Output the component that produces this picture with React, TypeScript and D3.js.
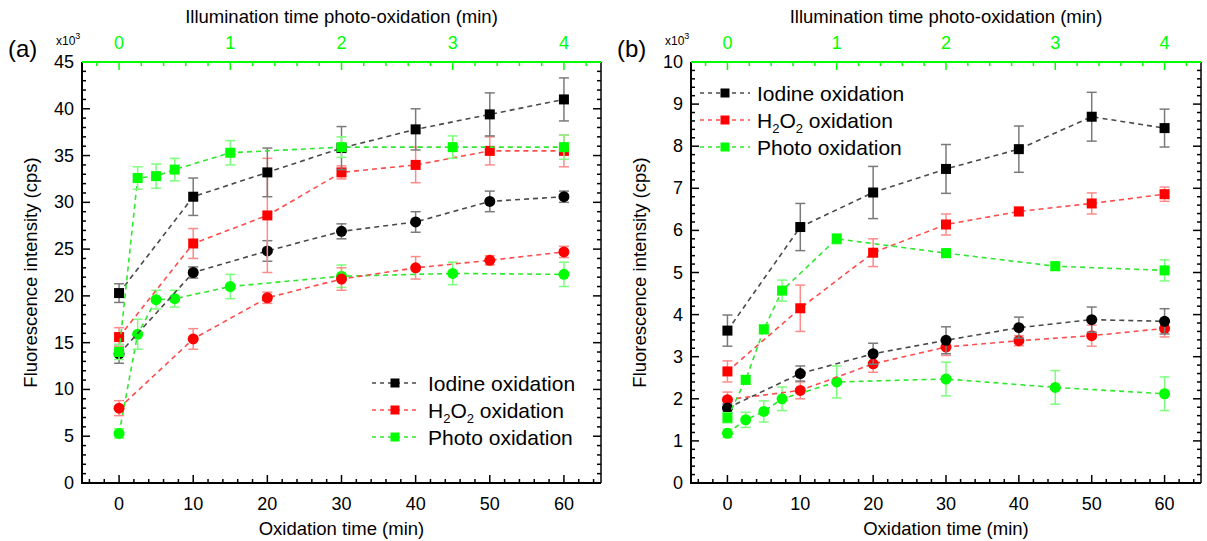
import React from "react";
import * as d3 from "d3";

// oxidation time (min) for iodine and H2O2 series, illumination time (min) for photo series
const oxTimes = [0, 10, 20, 30, 40, 50, 60];
const illumTimes = [0, 0.167, 0.333, 0.5, 1, 2, 3, 4];
const oxTicks = [0, 10, 20, 30, 40, 50, 60];
const illumTicks = [0, 1, 2, 3, 4];

// panel (a), values in x10^3 cps
const aIodineSq = [20.3, 30.6, 33.2, 35.8, 37.8, 39.4, 41.0];
const aIodineSqErr = [1.0, 2.0, 2.6, 2.3, 2.2, 2.3, 2.3];
const aIodineCi = [13.8, 22.5, 24.8, 26.9, 27.9, 30.1, 30.6];
const aIodineCiErr = [1.0, 0.6, 1.1, 0.8, 1.1, 1.1, 0.6];
const aH2o2Sq = [15.6, 25.6, 28.6, 33.2, 34.0, 35.5, 35.5];
const aH2o2SqErr = [1.0, 1.6, 6.1, 0.7, 1.9, 1.5, 1.7];
const aH2o2Ci = [8.0, 15.4, 19.8, 21.8, 23.0, 23.8, 24.7];
const aH2o2CiErr = [0.8, 1.1, 0.6, 1.2, 1.2, 0.5, 0.6];
const aPhotoSq = [14.0, 32.6, 32.8, 33.5, 35.3, 35.9, 35.9, 35.9];
const aPhotoSqErr = [0.8, 1.2, 1.3, 1.2, 1.3, 1.1, 1.2, 1.3];
const aPhotoCi = [5.3, 15.9, 19.6, 19.7, 21.0, 22.1, 22.4, 22.3];
const aPhotoCiErr = [0.5, 1.6, 1.0, 0.9, 1.3, 1.2, 1.2, 1.3];

// panel (b), values in x10^3 cps
const bIodineSq = [3.62, 6.08, 6.9, 7.46, 7.93, 8.7, 8.43];
const bIodineSqErr = [0.37, 0.56, 0.62, 0.58, 0.55, 0.58, 0.45];
const bIodineCi = [1.78, 2.6, 3.07, 3.39, 3.69, 3.88, 3.84];
const bIodineCiErr = [0.1, 0.18, 0.25, 0.32, 0.25, 0.3, 0.3];
const bH2o2Sq = [2.65, 4.15, 5.47, 6.14, 6.45, 6.64, 6.86];
const bH2o2SqErr = [0.25, 0.55, 0.33, 0.25, 0.1, 0.25, 0.17];
const bH2o2Ci = [1.98, 2.2, 2.83, 3.23, 3.38, 3.5, 3.67];
const bH2o2CiErr = [0.18, 0.2, 0.2, 0.2, 0.12, 0.25, 0.2];
const bPhotoSq = [1.55, 2.45, 3.65, 4.57, 5.8, 5.46, 5.15, 5.05];
const bPhotoSqErr = [0.12, 0.1, 0.1, 0.25, 0.12, 0.1, 0.1, 0.25];
const bPhotoCi = [1.18, 1.5, 1.7, 2.0, 2.4, 2.47, 2.27, 2.12];
const bPhotoCiErr = [0.1, 0.18, 0.25, 0.28, 0.38, 0.4, 0.4, 0.4];

const legendNames = ["Iodine oxidation", "H2O2 oxidation", "Photo oxidation"];

const COLORS = {
  black: { mark: "#000000", line: "#4a4a4a", err: "#7a7a7a" },
  red: { mark: "#ff0000", line: "#ff4c4c", err: "#ff8a8a" },
  green: { mark: "#00ff00", line: "#2fe82f", err: "#7dff7d" },
};
const legendColors = [COLORS.black, COLORS.red, COLORS.green];

const FONT = "'Liberation Sans', Arial, Helvetica, sans-serif";
const TOP = 62;
const BOTTOM = 483;

type Series = {
  values: number[];
  errors: number[];
  photo: boolean;
  color: { mark: string; line: string; err: string };
  shape: "square" | "circle";
};

function makeSeries(
  iSq: number[], iSqE: number[], iCi: number[], iCiE: number[],
  hSq: number[], hSqE: number[], hCi: number[], hCiE: number[],
  pSq: number[], pSqE: number[], pCi: number[], pCiE: number[]
): Series[] {
  return [
    { values: pCi, errors: pCiE, photo: true, color: COLORS.green, shape: "circle" },
    { values: hCi, errors: hCiE, photo: false, color: COLORS.red, shape: "circle" },
    { values: iCi, errors: iCiE, photo: false, color: COLORS.black, shape: "circle" },
    { values: hSq, errors: hSqE, photo: false, color: COLORS.red, shape: "square" },
    { values: iSq, errors: iSqE, photo: false, color: COLORS.black, shape: "square" },
    { values: pSq, errors: pSqE, photo: true, color: COLORS.green, shape: "square" },
  ];
}

const panels = [
  {
    label: "(a)",
    left: 82,
    right: 601,
    yMax: 45,
    yMajor: 5,
    yMinor: 1,
    legend: { x1: 372, x2: 418, tx: 428, y0: 383 },
    series: makeSeries(
      aIodineSq, aIodineSqErr, aIodineCi, aIodineCiErr,
      aH2o2Sq, aH2o2SqErr, aH2o2Ci, aH2o2CiErr,
      aPhotoSq, aPhotoSqErr, aPhotoCi, aPhotoCiErr
    ),
  },
  {
    label: "(b)",
    left: 691,
    right: 1201,
    yMax: 10,
    yMajor: 1,
    yMinor: 0.2,
    legend: { x1: 700, x2: 750, tx: 757, y0: 93 },
    series: makeSeries(
      bIodineSq, bIodineSqErr, bIodineCi, bIodineCiErr,
      bH2o2Sq, bH2o2SqErr, bH2o2Ci, bH2o2CiErr,
      bPhotoSq, bPhotoSqErr, bPhotoCi, bPhotoCiErr
    ),
  },
];

function Marker({ shape, cx, cy, fill, size }: { shape: string; cx: number; cy: number; fill: string; size: number }) {
  if (shape === "circle") return <circle cx={cx} cy={cy} r={size / 2 + 0.5} fill={fill} />;
  return <rect x={cx - size / 2} y={cy - size / 2} width={size} height={size} fill={fill} />;
}

function Panel({ p }: { p: (typeof panels)[number] }) {
  const x = d3.scaleLinear().domain([-5, 65]).range([p.left, p.right]);
  const xTop = d3.scaleLinear().domain([-1 / 3, 13 / 3]).range([p.left, p.right]);
  const y = d3.scaleLinear().domain([0, p.yMax]).range([BOTTOM, TOP]);
  const midX = (p.left + p.right) / 2;

  const bottomTicks = d3.range(-4, 65, 2);
  const topTicks = d3.range(-1, 22).map((i) => i * 0.2);
  const nY = Math.round(p.yMax / p.yMinor);
  const yTicks = d3.range(0, nY + 1).map((i) => i * p.yMinor);
  const isMajorY = (v: number) => Math.abs(v / p.yMajor - Math.round(v / p.yMajor)) < 1e-6;

  return (
    <g fontFamily={FONT}>
      {/* titles */}
      <text x={midX} y={23} textAnchor="middle" fontSize={18.5} fill="#000">
        Illumination time photo-oxidation (min)
      </text>
      <text x={midX} y={535} textAnchor="middle" fontSize={18.5} fill="#000">
        Oxidation time (min)
      </text>
      <text
        transform={`translate(${p.left - 45},${(TOP + BOTTOM) / 2}) rotate(-90)`}
        textAnchor="middle"
        fontSize={18.5}
        fill="#000"
      >
        Fluorescence intensity (cps)
      </text>
      <text x={p.left - 74} y={57} fontSize={24} fill="#000">
        {p.label}
      </text>
      <text x={p.left - 26} y={45} fontSize={12} fill="#000">
        x10
        <tspan dy={-6} fontSize={9}>
          3
        </tspan>
      </text>

      {/* left & right axes */}
      {yTicks.map((v, i) => {
        const len = isMajorY(v) ? 8 : 4;
        return (
          <g key={"y" + i}>
            <line x1={p.left} x2={p.left + len} y1={y(v)} y2={y(v)} stroke="#000" strokeWidth={1.5} />
            <line x1={p.right} x2={p.right - len} y1={y(v)} y2={y(v)} stroke="#000" strokeWidth={1.5} />
            {isMajorY(v) && (
              <text x={p.left - 8} y={y(v) + 6} textAnchor="end" fontSize={18} fill="#000">
                {d3.format("d")(v)}
              </text>
            )}
          </g>
        );
      })}
      <line x1={p.left} x2={p.left} y1={TOP} y2={BOTTOM + 1} stroke="#000" strokeWidth={2} />
      <line x1={p.right} x2={p.right} y1={TOP} y2={BOTTOM} stroke="#000" strokeWidth={1.5} />

      {/* bottom axis */}
      {bottomTicks.map((v) => {
        const major = v % 10 === 0;
        return (
          <line key={"b" + v} x1={x(v)} x2={x(v)} y1={BOTTOM} y2={BOTTOM - (major ? 8 : 4)} stroke="#000" strokeWidth={1.5} />
        );
      })}
      {oxTicks.map((v) => (
        <text key={"bl" + v} x={x(v)} y={510} textAnchor="middle" fontSize={18} fill="#000">
          {v}
        </text>
      ))}
      <line x1={p.left - 1} x2={p.right} y1={BOTTOM} y2={BOTTOM} stroke="#000" strokeWidth={2} />

      {/* top axis (illumination time) */}
      {topTicks.map((v, i) => {
        const major = Math.abs(v - Math.round(v)) < 1e-6;
        return (
          <line key={"t" + i} x1={xTop(v)} x2={xTop(v)} y1={TOP} y2={TOP + (major ? 8 : 4)} stroke="#00ff00" strokeWidth={1.5} />
        );
      })}
      {illumTicks.map((v) => (
        <text key={"tl" + v} x={xTop(v)} y={49} textAnchor="middle" fontSize={18} fill="#00ff00">
          {v}
        </text>
      ))}
      <line x1={p.left} x2={p.right} y1={TOP} y2={TOP} stroke="#00ff00" strokeWidth={2} />

      {/* data */}
      {p.series.map((s, si) => {
        const xs = s.photo ? illumTimes.map((t) => xTop(t)) : oxTimes.map((t) => x(t));
        const line = d3
          .line<number>()
          .x((_, i) => xs[i])
          .y((d) => y(d));
        return (
          <g key={"s" + si}>
            <path d={line(s.values) || ""} fill="none" stroke={s.color.line} strokeWidth={1.6} strokeDasharray="5,4" />
            {s.values.map((v, i) => (
              <g key={i} stroke={s.color.err} strokeWidth={1.5}>
                <line x1={xs[i]} x2={xs[i]} y1={y(v - s.errors[i])} y2={y(v + s.errors[i])} />
                <line x1={xs[i] - 5} x2={xs[i] + 5} y1={y(v - s.errors[i])} y2={y(v - s.errors[i])} />
                <line x1={xs[i] - 5} x2={xs[i] + 5} y1={y(v + s.errors[i])} y2={y(v + s.errors[i])} />
              </g>
            ))}
            {s.values.map((v, i) => (
              <Marker key={"m" + i} shape={s.shape} cx={xs[i]} cy={y(v)} fill={s.color.mark} size={10} />
            ))}
          </g>
        );
      })}

      {/* legend */}
      {legendNames.map((name, i) => {
        const ly = p.legend.y0 + i * 27;
        const c = legendColors[i];
        const mx = (p.legend.x1 + p.legend.x2) / 2;
        return (
          <g key={"l" + i}>
            <line x1={p.legend.x1} x2={p.legend.x2} y1={ly} y2={ly} stroke={c.line} strokeWidth={1.6} strokeDasharray="4,4" />
            <rect x={mx - 4.5} y={ly - 4.5} width={9} height={9} fill={c.mark} />
            <text x={p.legend.tx} y={ly + 7.5} fontSize={21} fill="#000">
              {i === 1 ? (
                <>
                  H<tspan dy={5} fontSize={13}>2</tspan>
                  <tspan dy={-5}>O</tspan>
                  <tspan dy={5} fontSize={13}>2</tspan>
                  <tspan dy={-5}> oxidation</tspan>
                </>
              ) : (
                name
              )}
            </text>
          </g>
        );
      })}
    </g>
  );
}

export default function App() {
  return (
    <svg
      width={1207}
      height={541}
      style={{ position: "absolute", left: 0, top: 0, background: "#fff" }}
    >
      <rect width={1207} height={541} fill="#fff" />
      {panels.map((p) => (
        <Panel key={p.label} p={p} />
      ))}
    </svg>
  );
}
